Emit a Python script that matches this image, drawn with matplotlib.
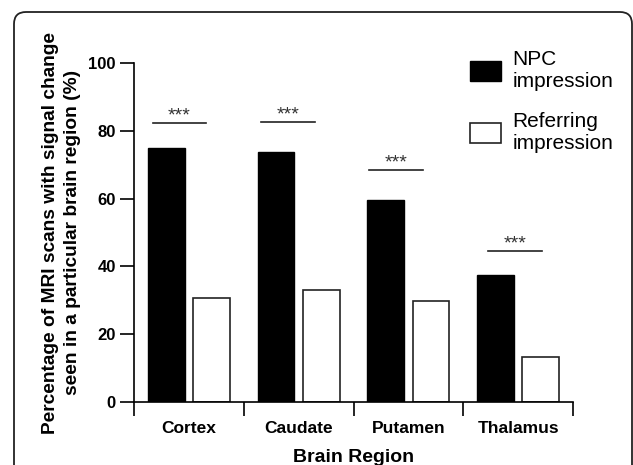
import numpy as np
import matplotlib
matplotlib.use("Agg")
import matplotlib.pyplot as plt
from matplotlib.patches import FancyBboxPatch

plt.rcParams['font.family'] = ['Liberation Sans', 'DejaVu Sans']

regions = ["Cortex", "Caudate", "Putamen", "Thalamus"]
npc = [74.8, 73.6, 59.5, 37.5]
referring = [30.8, 33.0, 29.7, 13.3]
# significance bars: height and left end (data units), all ***
sig_y = [82.3, 82.5, 68.4, 44.6]
sig_x0 = [-0.33, 0.66, 1.64, 2.73]
sig_txt = ["***", "***", "***", "***"]

fig = plt.figure(figsize=(6.33, 4.65), dpi=100)
ax = fig.add_axes([134/633, 1-402/465, (573-134)/633, (402-63)/465])

x = np.arange(len(regions))
w = 0.335
off = 0.207
ax.bar(x - off, npc, w, color='black', edgecolor='black', lw=1.0, label="NPC\nimpression")
ax.bar(x + off, referring, w, color='white', edgecolor='#222222', lw=1.2, label="Referring\nimpression")

for i in range(len(regions)):
    ax.plot([sig_x0[i], sig_x0[i] + 0.49], [sig_y[i], sig_y[i]], color='#222222', lw=1.2, clip_on=False)
    ax.text(sig_x0[i] + 0.245, sig_y[i] + 0.8, sig_txt[i], ha='center', va='baseline',
            fontsize=14, color='#333333')

ax.set_xlim(-0.5, 3.5)
ax.set_ylim(0, 100)
ax.spines['top'].set_visible(False)
ax.spines['right'].set_visible(False)
ax.spines['left'].set_linewidth(1.2)
ax.spines['bottom'].set_linewidth(1.2)

ax.set_yticks([0, 20, 40, 60, 80, 100])
ax.tick_params(axis='y', length=10, width=1.2, pad=3, labelsize=12)
for t in ax.get_yticklabels():
    t.set_fontweight('bold')

ax.set_xticks(np.arange(-0.5, 4, 1.0))
ax.set_xticklabels([])
ax.tick_params(axis='x', which='major', length=10, width=1.2)
ax.set_xticks(x, minor=True)
ax.set_xticklabels(regions, minor=True, fontsize=12.5, fontweight='bold')
ax.tick_params(axis='x', which='minor', length=0, pad=14)

ax.set_xlabel("Brain Region", fontsize=14, fontweight='bold', labelpad=9)
ax.set_ylabel("Percentage of MRI scans with signal change\nseen in a particular brain region (%)",
              fontsize=13.8, fontweight='bold', labelpad=5, linespacing=1.45)

ax.legend(loc='upper left', bbox_to_anchor=(470/633, 1-50/465), bbox_transform=fig.transFigure,
          frameon=False, fontsize=15, handlelength=1.5, handleheight=1.1,
          labelspacing=1.0, handletextpad=0.55, borderaxespad=0, borderpad=0)

border = FancyBboxPatch((0.14, -0.3), 6.18, 4.53 + 0.3,
                        boxstyle="round,pad=0,rounding_size=0.12",
                        transform=fig.dpi_scale_trans, fill=False,
                        edgecolor='#222222', lw=1.3, clip_on=False)
fig.patches.append(border)

fig.savefig("out.png", dpi=100)
